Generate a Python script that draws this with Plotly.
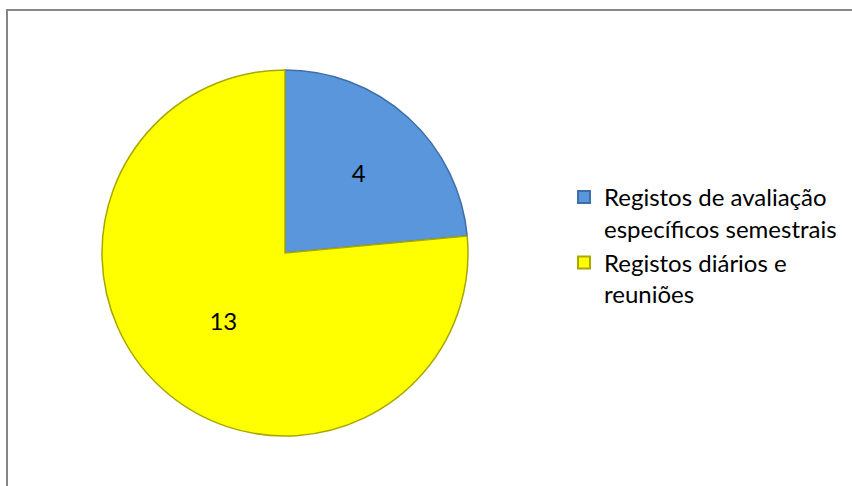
import plotly.graph_objects as go

labels = ["Registos de avaliação<br>específicos semestrais", "Registos diários e<br>reuniões"]
values = [4, 13]
colors = ["#5A96DC", "#FFFF00"]
edge_colors = ["#3F6FA8", "#A8A800"]

W, H = 852, 486

fig = go.Figure()

fig.add_trace(go.Pie(
    labels=labels,
    values=values,
    sort=False,
    direction="clockwise",
    rotation=0,
    marker=dict(colors=colors, line=dict(color=edge_colors, width=1.5)),
    textinfo="value",
    textposition="inside",
    insidetextorientation="horizontal",
    textfont=dict(family="Lato, Open Sans, sans-serif", size=24, color="#000000"),
    hoverinfo="label+value",
    domain=dict(x=[102 / W, 468 / W], y=[1 - 436 / H, 1 - 70 / H]),
))

# chart-area border (right and bottom edges fall outside the picture)
fig.add_shape(
    type="rect", xref="paper", yref="paper",
    x0=7 / W, x1=1.05, y0=-0.05, y1=1 - 10 / H,
    line=dict(color="#868686", width=2),
    fillcolor="rgba(0,0,0,0)",
    layer="below",
)

fig.update_layout(
    width=W, height=H,
    margin=dict(l=0, r=0, t=0, b=0),
    paper_bgcolor="white",
    plot_bgcolor="white",
    font=dict(family="Lato, Open Sans, sans-serif", size=24, color="#000000"),
    showlegend=True,
    legend=dict(
        x=564 / W, y=1 - 175 / H,
        xanchor="left", yanchor="top",
        font=dict(size=24),
        valign="top",
        tracegroupgap=14,
        itemsizing="constant",
        bgcolor="rgba(0,0,0,0)",
    ),
)

# the page body has a default 8px margin; drop it so the figure fills the window
fig.write_html(
    "out.html",
    config=dict(displayModeBar=False),
    post_script="document.body.style.margin='0';",
)
